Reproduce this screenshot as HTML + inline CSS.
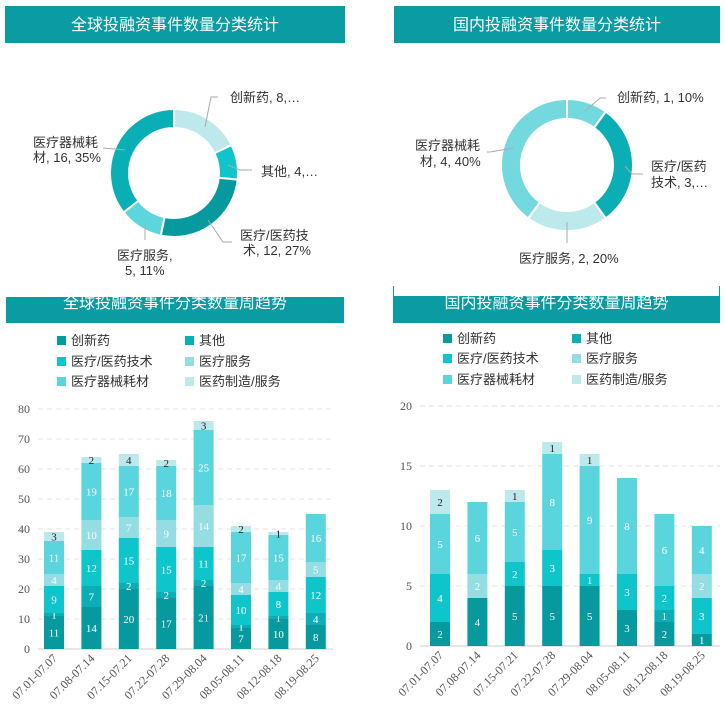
<!DOCTYPE html>
<html><head><meta charset="utf-8"><style>
body{margin:0;background:#fff;width:726px;height:711px;overflow:hidden}
svg{display:block}
text{font-family:"Liberation Serif","Noto Sans CJK SC",serif}
.cj{font-family:"Liberation Sans","Noto Sans CJK SC",sans-serif}
</style></head><body>
<svg id="s" width="726" height="711" xmlns="http://www.w3.org/2000/svg"></svg>
<script>
const s=document.getElementById('s');let h='';
const C=['#069a9e','#0aaeb4','#0ec5cc','#93dde3','#5bd5dd','#bce9ec'];
const names=['创新药','其他','医疗/医药技术','医疗服务','医疗器械耗材','医药制造/服务'];
function hdr(x,y,w,hh,t,ty){h+=`<rect x="${x}" y="${y}" width="${w}" height="${hh}" fill="#0a9ca2"/><text class="cj" x="${x+w/2}" y="${ty}" fill="#fff" font-size="16" text-anchor="middle">${t}</text>`;}
hdr(5,6,340,37,'全球投融资事件数量分类统计',30);
hdr(394,6,326,37,'国内投融资事件数量分类统计',30);
hdr(6,297,338,26,'全球投融资事件分类数量周趋势',308);
hdr(393,296,327,27,'国内投融资事件分类数量周趋势',308);
h+=`<line x1="393.5" y1="286" x2="393.5" y2="296" stroke="#0a9ca2"/><line x1="719.5" y1="286" x2="719.5" y2="296" stroke="#0a9ca2"/>`;
function donut(cx,cy,R,r,vals,cols){let tot=vals.reduce((a,b)=>a+b),a0=-Math.PI/2;
vals.forEach((v,i)=>{let a1=a0+v/tot*2*Math.PI;const p=(a,rr)=>[cx+rr*Math.cos(a),cy+rr*Math.sin(a)];
let [x1,y1]=p(a0,R),[x2,y2]=p(a1,R),[x3,y3]=p(a1,r),[x4,y4]=p(a0,r);let lg=(a1-a0)>Math.PI?1:0;
h+=`<path d="M${x1} ${y1}A${R} ${R} 0 ${lg} 1 ${x2} ${y2}L${x3} ${y3}A${r} ${r} 0 ${lg} 0 ${x4} ${y4}Z" fill="${cols[i]}" stroke="#fff" stroke-width="2"/>`;a0=a1;});}
donut(174,173,64,45,[8,4,12,5,16],['#bde9ed','#10c4cb','#069a9e','#5dd5dd','#0aafb5']);
donut(567,165,66,46,[1,3,2,4],['#74d8df','#0aaeb4','#bce9ec','#74d8df']);
function lab(x,y,t,a){h+=`<text class="cj" x="${x}" y="${y}" font-size="13" fill="#333" text-anchor="${a||'start'}">${t}</text>`;}
function ln(pts){h+=`<polyline points="${pts}" fill="none" stroke="#aaa" stroke-width="1"/>`;}
ln('205,127 211,97 218,97');lab(230,102,'创新药, 8,…');
ln('228,165 240,170 252,170');lab(261,176,'其他, 4,…');
ln('208,220 223,242 232,242');lab(240,240,'医疗/医药技');lab(243,255,'术, 12, 27%');
ln('145,225 145,240');lab(117,260,'医疗服务,');lab(125,275,'5, 11%');
ln('125,150 103,148');lab(33,147,'医疗器械耗');lab(33,162,'材, 16, 35%');
ln('585,111 600,98 606,98');lab(617,102,'创新药, 1, 10%');
ln('625,166 632,174 643,174');lab(651,171,'医疗/医药');lab(651,187,'技术, 3,…');
ln('567,222 567,243');lab(519,263,'医疗服务, 2, 20%');
ln('513,148 490,152 487,152');lab(415,150,'医疗器械耗');lab(420,166,'材, 4, 40%');
function legend(x1,x2,ys){names.forEach((n,i)=>{let x=i%2?x2:x1,y=ys[Math.floor(i/2)];h+=`<rect x="${x}" y="${y-4}" width="9" height="9" fill="${C[i]}"/>`;lab(x+14,y+5,n);});}
legend(57,185,[340,361,381]);legend(443,572,[338,358,379]);
const dates=['07.01-07.07','07.08-07.14','07.15-07.21','07.22-07.28','07.29-08.04','08.05-08.11','08.12-08.18','08.19-08.25'];
function chart(x0,x1,y0,ppu,step,max,c0,sp,data){
for(let v=0;v<=max;v+=step){let y=y0-v*ppu;if(v>0)h+=`<line x1="${x0}" y1="${y}" x2="${x1}" y2="${y}" stroke="#e3e3e3" stroke-dasharray="5,4"/>`;
h+=`<text x="${x0-8}" y="${y+4}" font-size="12" fill="#555" text-anchor="end">${v}</text>`;}
h+=`<line x1="${x0}" y1="${y0}" x2="${x1}" y2="${y0}" stroke="#ccc"/>`;
data.forEach((d,j)=>{let cx=c0+j*sp,acc=0;d.forEach((v,i)=>{if(!v)return;let yt=y0-(acc+v)*ppu;
h+=`<rect x="${cx-10}" y="${yt}" width="20" height="${v*ppu}" fill="${C[i]}"/>`;
h+=`<text x="${cx}" y="${yt+v*ppu/2+4}" font-size="11" fill="${i==5?'#222':'#fff'}" text-anchor="middle">${v}</text>`;acc+=v;});
h+=`<text x="${cx+4}" y="${y0+10}" font-size="12" fill="#555" text-anchor="end" transform="rotate(-45 ${cx+4} ${y0+10})">${dates[j]}</text>`;});}
chart(38,333,649,3,10,80,54,37.4,[[11,1,9,4,11,3],[14,7,12,10,19,2],[20,2,15,7,17,4],[17,2,15,9,18,2],[21,2,11,14,25,3],[7,1,10,4,17,2],[10,1,8,4,15,1],[8,4,12,5,16,0]]);
chart(420,720,646,12,5,20,440,37.4,[[2,0,4,0,5,2],[4,0,0,2,6,0],[5,0,2,0,5,1],[5,0,3,0,8,1],[5,0,1,0,9,1],[3,0,3,0,8,0],[2,1,2,0,6,0],[1,0,3,2,4,0]]);
s.innerHTML=h;
</script>
</body></html>
